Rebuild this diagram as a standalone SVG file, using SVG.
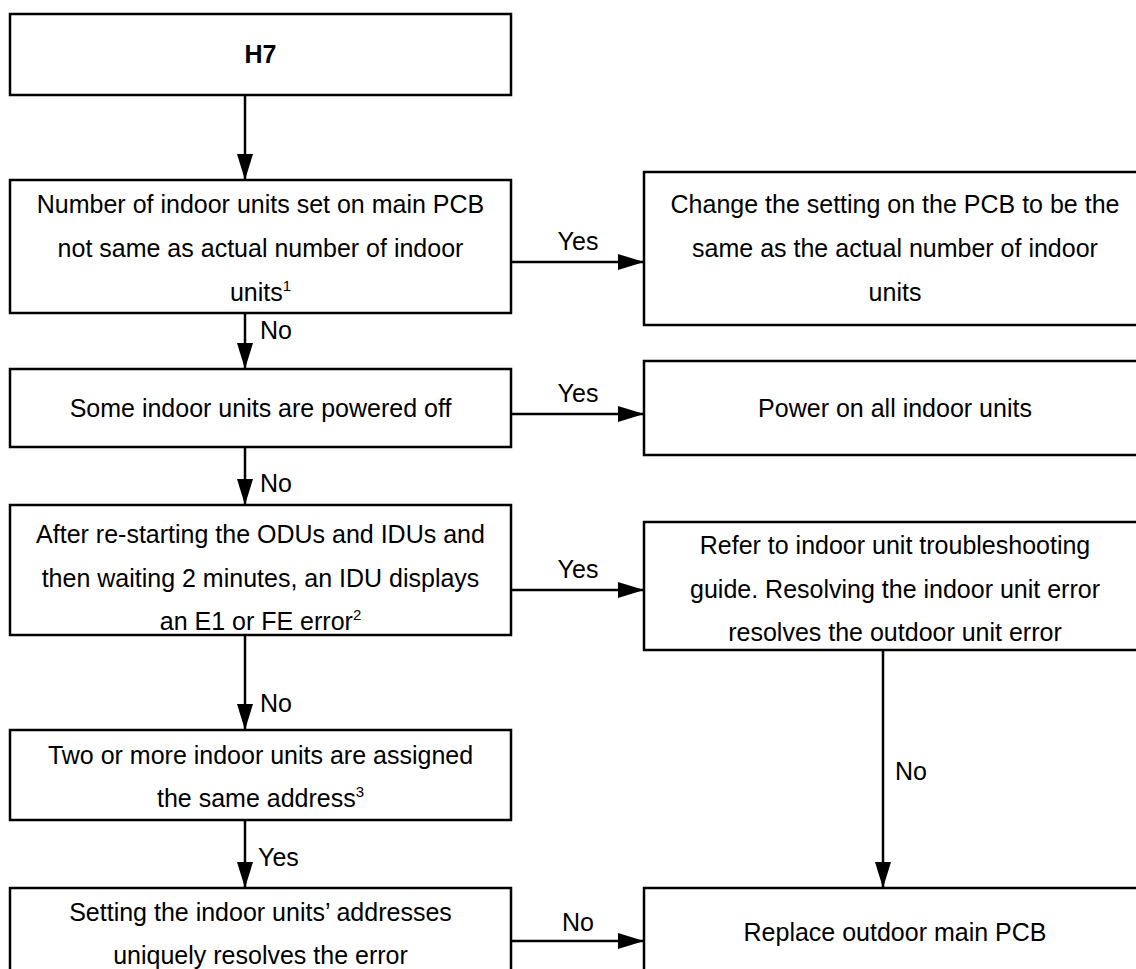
<svg xmlns="http://www.w3.org/2000/svg" width="1136" height="969" viewBox="0 0 1136 969">
<defs>
<marker id="ah" markerWidth="26" markerHeight="16" refX="26" refY="8" orient="auto" markerUnits="userSpaceOnUse">
<path d="M0,0 L26,8 L0,16 Z" fill="#000"/>
</marker>
<style>
.box{fill:#fff;stroke:#000;stroke-width:2.5}
.t{font-family:"Liberation Sans",Arial,sans-serif;font-size:25px;fill:#000;text-anchor:middle}
.b{font-weight:bold}
.lbl{font-family:"Liberation Sans",Arial,sans-serif;font-size:25px;fill:#000}
.m{text-anchor:middle}
.c{stroke:#000;stroke-width:2.5;fill:none;marker-end:url(#ah)}
.sup{font-size:15px}
</style>
</defs>
<rect width="1136" height="969" fill="#fff"/>

<g id="connectors">
<line class="c" x1="245" y1="95" x2="245" y2="180"/>
<line class="c" x1="511" y1="262" x2="644" y2="262"/>
<line class="c" x1="245" y1="313" x2="245" y2="369"/>
<line class="c" x1="511" y1="414" x2="644" y2="414"/>
<line class="c" x1="245" y1="447" x2="245" y2="505"/>
<line class="c" x1="511" y1="590" x2="644" y2="590"/>
<line class="c" x1="245" y1="635" x2="245" y2="730"/>
<line class="c" x1="883" y1="650" x2="883" y2="888"/>
<line class="c" x1="245" y1="820" x2="245" y2="888"/>
<line class="c" x1="511" y1="941" x2="644" y2="941"/>
<text class="lbl m" x="578" y="250">Yes</text>
<text class="lbl" x="260" y="339">No</text>
<text class="lbl m" x="578" y="402">Yes</text>
<text class="lbl" x="260" y="492">No</text>
<text class="lbl m" x="578" y="578">Yes</text>
<text class="lbl" x="260" y="712">No</text>
<text class="lbl" x="895" y="780">No</text>
<text class="lbl" x="258" y="866">Yes</text>
<text class="lbl m" x="578" y="931">No</text>
</g>

<g id="n-h7">
<rect class="box" x="10" y="14" width="501" height="81"/>
<text class="t b" x="260.5" y="63">H7</text>
</g>

<g id="n-count">
<rect class="box" x="10" y="180" width="501" height="133"/>
<text class="t" x="260.5" y="213">Number of indoor units set on main PCB</text>
<text class="t" x="260.5" y="257">not same as actual number of indoor</text>
<text class="t" x="260.5" y="301">units<tspan class="sup" dy="-10">1</tspan></text>
</g>

<g id="n-change">
<rect class="box" x="644" y="172" width="502" height="153"/>
<text class="t" x="895" y="213">Change the setting on the PCB to be the</text>
<text class="t" x="895" y="257">same as the actual number of indoor</text>
<text class="t" x="895" y="301">units</text>
</g>

<g id="n-powered">
<rect class="box" x="10" y="369" width="501" height="78"/>
<text class="t" x="260.5" y="417">Some indoor units are powered off</text>
</g>

<g id="n-poweron">
<rect class="box" x="644" y="361" width="502" height="94"/>
<text class="t" x="895" y="417">Power on all indoor units</text>
</g>

<g id="n-restart">
<rect class="box" x="10" y="505" width="501" height="130"/>
<text class="t" x="260.5" y="543">After re-starting the ODUs and IDUs and</text>
<text class="t" x="260.5" y="587">then waiting 2 minutes, an IDU displays</text>
<text class="t" x="260.5" y="630">an E1 or FE error<tspan class="sup" dy="-10">2</tspan></text>
</g>

<g id="n-refer">
<rect class="box" x="644" y="522" width="502" height="128"/>
<text class="t" x="895" y="554">Refer to indoor unit troubleshooting</text>
<text class="t" x="895" y="598">guide. Resolving the indoor unit error</text>
<text class="t" x="895" y="641">resolves the outdoor unit error</text>
</g>

<g id="n-address">
<rect class="box" x="10" y="730" width="501" height="90"/>
<text class="t" x="260.5" y="764">Two or more indoor units are assigned</text>
<text class="t" x="260.5" y="807">the same address<tspan class="sup" dy="-10">3</tspan></text>
</g>

<g id="n-setting">
<rect class="box" x="10" y="888" width="501" height="100"/>
<text class="t" x="260.5" y="921">Setting the indoor units’ addresses</text>
<text class="t" x="260.5" y="964">uniquely resolves the error</text>
</g>

<g id="n-replace">
<rect class="box" x="644" y="888" width="502" height="100"/>
<text class="t" x="895" y="941">Replace outdoor main PCB</text>
</g>
</svg>
